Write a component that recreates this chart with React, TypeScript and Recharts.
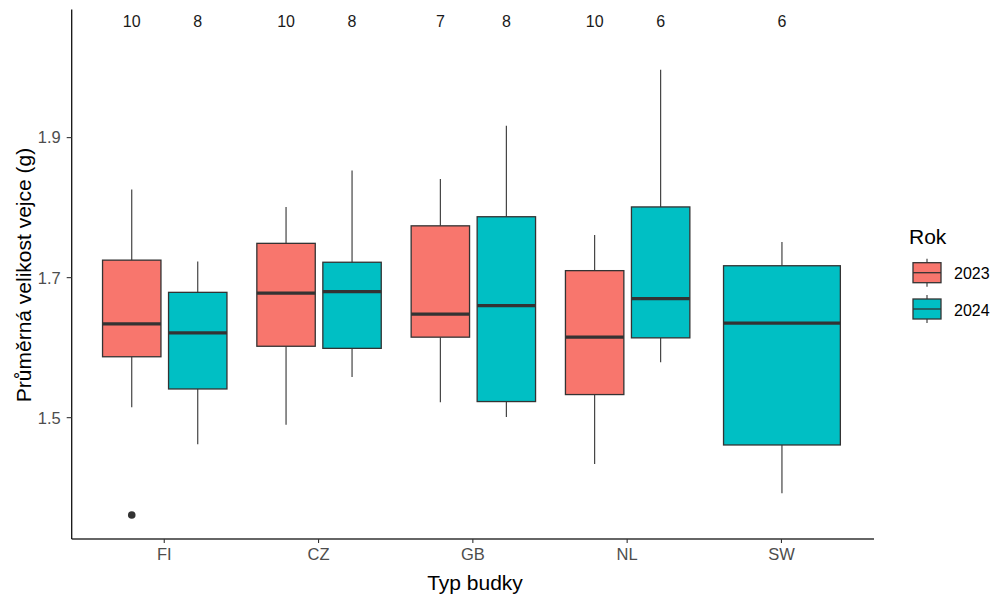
import React from 'react';
import { ComposedChart, Bar, XAxis, YAxis, Customized } from 'recharts';

const categories = ['FI', 'CZ', 'GB', 'NL', 'SW'];

const min2023 = [1.515, 1.490, 1.522, 1.434, null];
const q1_2023 = [1.587, 1.602, 1.615, 1.533, null];
const med2023 = [1.634, 1.678, 1.648, 1.615, null];
const q3_2023 = [1.725, 1.749, 1.774, 1.710, null];
const max2023 = [1.826, 1.801, 1.841, 1.761, null];
const n2023 = [10, 10, 7, 10, null];
const out2023: number[][] = [[1.361], [], [], [], []];

const min2024 = [1.462, 1.558, 1.501, 1.579, 1.392];
const q1_2024 = [1.541, 1.599, 1.523, 1.614, 1.461];
const med2024 = [1.621, 1.680, 1.660, 1.670, 1.635];
const q3_2024 = [1.679, 1.722, 1.787, 1.801, 1.717];
const max2024 = [1.723, 1.853, 1.917, 1.997, 1.751];
const n2024 = [8, 8, 8, 6, 6];
const out2024: number[][] = [[], [], [], [], []];

const yTicks = [1.5, 1.7, 1.9];
const yDomain = [1.3267, 2.083];
const countLabelY = 2.066;

const years = ['2023', '2024'];
const colors: Record<string, string> = { '2023': '#F8766D', '2024': '#00BFC4' };

const mk = (mn: any, q1: any, md: any, q3: any, mx: any, n: any, out: number[]) =>
  mn == null ? null : { min: mn, q1, med: md, q3, max: mx, n, out };

const data = categories.map((c, i) => ({
  cat: c,
  s2023: mk(min2023[i], q1_2023[i], med2023[i], q3_2023[i], max2023[i], n2023[i], out2023[i]),
  s2024: mk(min2024[i], q1_2024[i], med2024[i], q3_2024[i], max2024[i], n2024[i], out2024[i]),
}));

const FONT = '"Liberation Sans", Arial, sans-serif';
const DARK = '#333333';

const makeShape = (year: string) => (props: any) => {
  const { x, y, width, height, payload } = props;
  const s = payload && payload['s' + year];
  if (!s || !height) return <g />;
  let slotX = x;
  let slotW = width;
  if (year === '2024' && !payload.s2023) {
    slotX = x - width;
    slotW = width * 2;
  }
  const bw = slotW * 0.885;
  const bx = slotX + (slotW - bw) / 2;
  const cx = slotX + slotW / 2;
  const py = (v: number) => y + ((s.max - v) / (s.max - s.min)) * height;
  return (
    <g>
      <line x1={cx} x2={cx} y1={py(s.max)} y2={py(s.q3)} stroke={DARK} strokeWidth={1.1} />
      <line x1={cx} x2={cx} y1={py(s.q1)} y2={py(s.min)} stroke={DARK} strokeWidth={1.1} />
      <rect x={bx} y={py(s.q3)} width={bw} height={py(s.q1) - py(s.q3)} fill={colors[year]} stroke={DARK} strokeWidth={1.3} />
      <line x1={bx} x2={bx + bw} y1={py(s.med)} y2={py(s.med)} stroke={DARK} strokeWidth={3.2} />
      {s.out.map((o: number, k: number) => (
        <circle key={k} cx={cx} cy={py(o)} r={3.8} fill={DARK} />
      ))}
      <text x={cx} y={py(countLabelY)} textAnchor="middle" dominantBaseline="central" fontSize={16} fontFamily={FONT} fill="#1a1a1a">
        {s.n}
      </text>
    </g>
  );
};

const Extras = () => (
  <g fontFamily={FONT}>
    <text x={475} y={582} textAnchor="middle" dominantBaseline="central" fontSize={21} fill="#000">Typ budky</text>
    <text transform="translate(23,275) rotate(-90)" textAnchor="middle" dominantBaseline="central" fontSize={21} fill="#000">Průměrná velikost vejce (g)</text>
    <text x={909} y={236} dominantBaseline="central" fontSize={21} fill="#000">Rok</text>
    {years.map((yr, i) => {
      const cy = 272.7 + i * 36.3;
      return (
        <g key={yr}>
          <line x1={927} x2={927} y1={cy - 14} y2={cy + 14} stroke={DARK} strokeWidth={1.1} />
          <rect x={913} y={cy - 10} width={28} height={20} fill={colors[yr]} stroke={DARK} strokeWidth={1.3} />
          <line x1={913} x2={941} y1={cy} y2={cy} stroke={DARK} strokeWidth={1.3} />
          <text x={954} y={cy + 1} dominantBaseline="central" fontSize={16} fill="#000">{yr}</text>
        </g>
      );
    })}
  </g>
);

export default function App() {
  return (
    <div style={{ position: 'absolute', left: 0, top: 0, width: 997, height: 599, background: '#fff' }}>
      <ComposedChart
        width={997}
        height={599}
        data={data}
        margin={{ top: 9.5, right: 123, bottom: 0, left: 0 }}
        barGap={0}
        barCategoryGap="7.55%"
      >
        <XAxis
          dataKey="cat"
          padding={{ left: 15.4, right: 15.4 }}
          height={60}
          tickSize={4}
          tickMargin={5}
          axisLine={{ stroke: DARK, strokeWidth: 1.3 }}
          tickLine={{ stroke: DARK, strokeWidth: 1.1 }}
          tick={{ fill: '#4d4d4d', fontSize: 16.5, fontFamily: FONT }}
        />
        <YAxis
          type="number"
          domain={yDomain}
          allowDataOverflow
          ticks={yTicks}
          tickFormatter={(v: number) => v.toFixed(1)}
          width={71.7}
          tickSize={5}
          tickMargin={6}
          axisLine={{ stroke: '#111', strokeWidth: 1.3 }}
          tickLine={{ stroke: DARK, strokeWidth: 1.1 }}
          tick={{ fill: '#4d4d4d', fontSize: 16.5, fontFamily: FONT }}
        />
        {years.map((yr) => (
          <Bar
            key={yr}
            dataKey={(d: any) => (d['s' + yr] ? [d['s' + yr].min, d['s' + yr].max] : null)}
            name={yr}
            fill={colors[yr]}
            isAnimationActive={false}
            shape={makeShape(yr)}
          />
        ))}
        <Customized component={Extras} />
      </ComposedChart>
    </div>
  );
}
